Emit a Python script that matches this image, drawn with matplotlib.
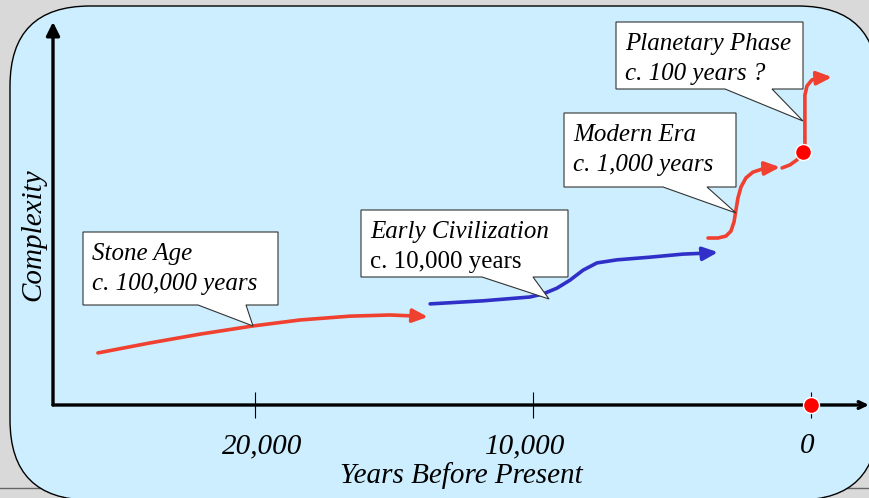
import matplotlib
matplotlib.use('Agg')
import matplotlib.pyplot as plt
from matplotlib.patches import FancyBboxPatch, Polygon
from matplotlib.lines import Line2D
from matplotlib.transforms import Affine2D, ScaledTranslation

# Curve data: years before present vs. complexity (0-100 scale)
stone_years = [25650, 23780, 21980, 20110, 18380, 16580, 15140, 14140, 13780]
stone_cplx = [13.6, 16.2, 18.5, 20.6, 22.2, 23.2, 23.5, 23.2, 23.0]

civ_years = [13700, 11800, 10110, 9640, 9140, 8670, 8200, 7700, 6980, 5790, 4600, 3630, 3345]
civ_cplx = [26.4, 27.2, 28.2, 29.0, 30.5, 32.6, 35.2, 37.1, 37.9, 38.6, 39.4, 39.7, 39.9]

modern_years = [3705, 3345, 3060, 2880, 2770, 2700, 2630, 2520, 2340, 2090, 1760, 1475, 1115]
modern_cplx = [43.6, 43.6, 44.1, 45.4, 47.8, 50.9, 54.0, 56.9, 59.3, 60.8, 61.6, 61.9, 62.1]

link_years = [1040, 755, 505, 290]
link_cplx = [61.9, 62.7, 64.0, 66.1]

planet_years = [290, 220, 220, 220, 145, -35, -325, -755]
planet_cplx = [66.1, 66.6, 74.4, 80.9, 83.3, 84.9, 85.4, 85.6]

dot_years = [0, 290]
dot_cplx = [0, 66.1]

tick_vals = [20000, 10000, 0]
tick_labels = ['20,000', '10,000', '0']

# Callouts: (lines, italic flags, box l/t/r/b, pointer base x0/x1, tip) in reference pixels
callouts = [
    (['Stone Age', 'c. 100,000 years'], [True, True], (83, 232, 278, 305), (198, 246), (253, 326)),
    (['Early Civilization', 'c. 10,000 years'], [True, False], (361, 210, 568, 277), (482, 533), (549, 299)),
    (['Modern Era', 'c. 1,000 years'], [True, True], (564, 113, 736, 187), (663, 707), (736, 213)),
    (['Planetary Phase', 'c. 100 years ?'], [True, True], (616, 22, 803, 89), (725, 772), (803, 121)),
]

RED = '#f04030'
BLUE = '#3030c8'
W, H = 869, 498

plt.rcParams['font.family'] = ['Liberation Serif', 'DejaVu Serif']

fig = plt.figure(figsize=(W / 100, H / 100), dpi=100)
fig.patch.set_facecolor('#d9d9d9')

# transform from reference pixel coords (y down) to display
px = Affine2D().scale(1 / 100, -1 / 100).translate(0, H / 100) + fig.dpi_scale_trans

# slide edge line and rounded blue panel
fig.add_artist(Line2D([0, W], [488, 488], transform=px, color='#666666', lw=1, zorder=0))
panel = FancyBboxPatch((10, 6), 868, 494, boxstyle='round,pad=0,rounding_size=80',
                       transform=px, facecolor='#cceeff', edgecolor='black', lw=1, zorder=1)
fig.add_artist(panel)

ax = fig.add_axes([53 / W, (H - 405) / H, 816 / W, 383 / H])
ax.set_facecolor('none')
ax.set_zorder(2)
ax.set_xlim(27266, -2086)
ax.set_ylim(0, 100)
for s in ax.spines.values():
    s.set_visible(False)
ax.set_yticks([])

# axis arrows
ax.annotate('', xy=(0, 1), xytext=(0, 0), xycoords='axes fraction',
            arrowprops=dict(arrowstyle='-|>,head_length=0.4,head_width=0.2', mutation_scale=20,
                            color='black', lw=2.4, shrinkA=0, shrinkB=0))
ax.annotate('', xy=(1.0, 0), xytext=(0, 0), xycoords='axes fraction',
            arrowprops=dict(arrowstyle='->,head_length=0.25,head_width=0.12', mutation_scale=20,
                            color='black', lw=2.4, shrinkA=0, shrinkB=0))

ax.set_xticks(tick_vals)
ax.set_xticklabels(tick_labels, fontsize=21, style='italic')
ax.tick_params(axis='x', direction='inout', length=19, width=0.8, pad=11)
# labels in the original sit a little off their ticks
for lab, dx in zip(ax.get_xticklabels(), [7, -8, -4]):
    lab.set_transform(lab.get_transform() + ScaledTranslation(dx / 100, 0, fig.dpi_scale_trans))
ax.set_xlabel('Years Before Present', fontsize=21, style='italic', labelpad=2)
ax.set_ylabel('Complexity', fontsize=21, style='italic', va='center')
ax.yaxis.set_label_coords(-0.0245, 0.444)


def arrow_curve(xs, ys, color):
    ax.plot(xs[:-1], ys[:-1], color=color, lw=2.6, solid_capstyle='round',
            solid_joinstyle='round', clip_on=False)
    ax.annotate('', xy=(xs[-1], ys[-1]), xytext=(xs[-2], ys[-2]),
                arrowprops=dict(arrowstyle='-|>,head_length=0.45,head_width=0.2', mutation_scale=20,
                                color=color, lw=2.6, shrinkA=0, shrinkB=0))


arrow_curve(stone_years, stone_cplx, RED)
arrow_curve(civ_years, civ_cplx, BLUE)
arrow_curve(modern_years, modern_cplx, RED)
ax.plot(link_years, link_cplx, color=RED, lw=2.6, solid_capstyle='round')
arrow_curve(planet_years, planet_cplx, RED)

ax.plot(dot_years, dot_cplx, 'o', color='red', markersize=11.5, markeredgecolor='white',
        markeredgewidth=1, linestyle='none', clip_on=False, zorder=5)

# callout boxes
for lines, italic, (l, t, r, b), (b0, b1), tip in callouts:
    verts = [(l, t), (r, t), (r, b), (b1, b), tip, (b0, b), (l, b)]
    fig.add_artist(Polygon(verts, closed=True, transform=px, facecolor='white',
                           edgecolor='#333333', lw=0.8, zorder=3))
    for i, (txt, it) in enumerate(zip(lines, italic)):
        fig.text(l + 9, t + 28 + 30 * i, txt, transform=px, fontsize=18,
                 style='italic' if it else 'normal', va='baseline', ha='left', zorder=4)

plt.savefig('out.png', dpi=100, facecolor=fig.get_facecolor())
